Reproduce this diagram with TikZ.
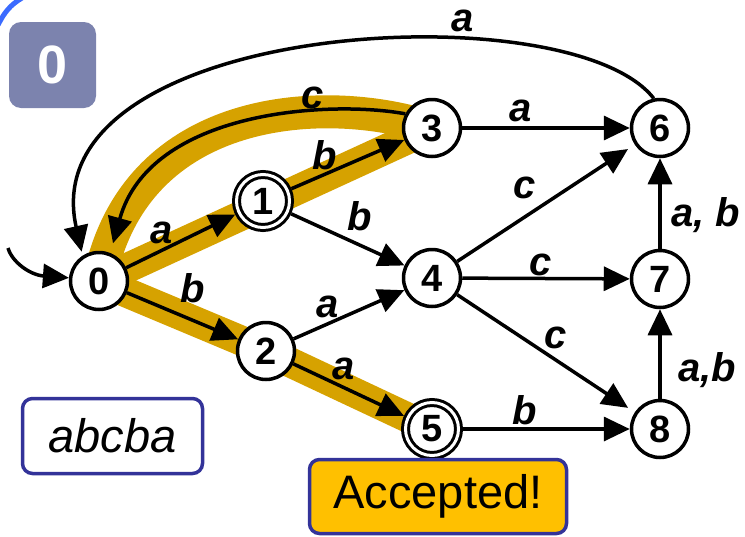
\documentclass[tikz,border=0pt]{standalone}
\usepackage{fontspec}
\setmainfont{Liberation Sans}
\usetikzlibrary{arrows.meta}
\definecolor{gold}{RGB}{214,162,0}
\definecolor{accfill}{RGB}{255,192,0}
\definecolor{boxline}{RGB}{51,51,153}
\definecolor{slate}{RGB}{124,131,174}
\definecolor{cornerblue}{RGB}{59,107,255}
\pgfdeclarelayer{bg}
\pgfsetlayers{bg,main}
\begin{document}
\begin{tikzpicture}[x=1pt,y=-1pt,
  state/.style={circle,draw,line width=3.5pt,fill=white,minimum size=57pt,inner sep=0pt,font=\fontsize{38}{38}\selectfont\bfseries},
  accept/.style={double,line width=3pt,double distance=3pt,minimum size=53pt,outer sep=4.5pt},
  edge/.style={line width=3.5pt,-{Triangle[length=26pt,width=24pt]}},
  lab/.style={inner sep=0pt,font=\fontsize{40}{40}\selectfont\bfseries\itshape},
  band/.style={draw=gold,line width=30pt,line join=round},
  infobox/.style={draw=boxline,line width=3.5pt,rounded corners=10pt,inner sep=0pt,font=\fontsize{47}{47}\selectfont}
]
\useasboundingbox (0,0) rectangle (745,536);

% corner of slide frame
\draw[cornerblue,line width=5pt] (-2,25) .. controls (4,13) and (10,5) .. (22,-2);

% step box
\node[fill=slate,rounded corners=12pt,minimum width=87pt,minimum height=86pt,inner sep=0pt,
      text=white,font=\fontsize{54}{54}\selectfont\bfseries] (stepno) at (52.5,65) {0};

% states
\node[state] (n0) at (99,281) {0};
\node[state,accept] (n1) at (263,201) {1};
\node[state] (n2) at (266,351) {2};
\node[state] (n3) at (432,128) {3};
\node[state] (n4) at (432,278) {4};
\node[state,accept] (n5) at (432,429) {5};
\node[state] (n6) at (660,128) {6};
\node[state] (n7) at (660,279) {7};
\node[state] (n8) at (660,429) {8};

% highlighted path
\begin{pgfonlayer}{bg}
\draw[band] (n0.center) -- (n3.center);
\draw[band] (n0.center) -- (n2.center) -- (n5.center);
\draw[band,line width=33pt] (n3.center) .. controls (330,94) and (135,100) .. (n0.center);
\end{pgfonlayer}

% edges
\coordinate (init) at (8,248);
\draw[edge] (init) .. controls (12,262) and (30,275) .. (n0.174);
\draw[edge] (n0) -- (n1);
\draw[edge] (n0) -- (n2);
\draw[edge] (n1) -- (n3);
\draw[edge] (n1) -- (n4);
\draw[edge] (n2) -- (n4);
\draw[edge] (n2) -- (n5);
\draw[edge] (n3) -- (n6);
\draw[edge,shorten >=8pt] (n4) -- (n6);
\draw[edge] (n4) -- (n7);
\draw[edge,shorten >=8pt] (n4) -- (n8);
\draw[edge] (n5) -- (n8);
\draw[edge] (n7) -- (n6);
\draw[edge] (n8) -- (n7);
\draw[edge,shorten >=10pt] (n3.152) .. controls (330,100) and (150,110) .. (n0.68);
\draw[edge,shorten >=4pt] (n6.102) .. controls (570,-10) and (30,20) .. (n0.123);

% labels
\node[lab] (l60) at (463,21) {a};
\node[lab] (l30) at (313,98) {c};
\node[lab] (l36) at (521,111) {a};
\node[lab] (l13) at (325,155) {b};
\node[lab] (l01) at (162,233) {a};
\node[lab] (l14) at (360,216) {b};
\node[lab] (l46) at (525,188) {c};
\node[lab] (l76) at (706,215) {a, b};
\node[lab] (l47) at (541,265) {c};
\node[lab] (l02) at (193,288) {b};
\node[lab] (l24) at (328,307) {a};
\node[lab] (l48) at (556,338) {c};
\node[lab] (l87) at (707,370) {a,b};
\node[lab] (l25) at (344,369) {a};
\node[lab] (l58) at (525,410) {b};

% info boxes
\node[infobox,fill=white,minimum width=180pt,minimum height=75pt,font=\fontsize{47}{47}\selectfont\itshape] (input) at (112.5,436) {abcba};
\node[infobox,fill=accfill,minimum width=257pt,minimum height=74pt] (result) at (438,496.5) {Accepted!};
\end{tikzpicture}
\end{document}
